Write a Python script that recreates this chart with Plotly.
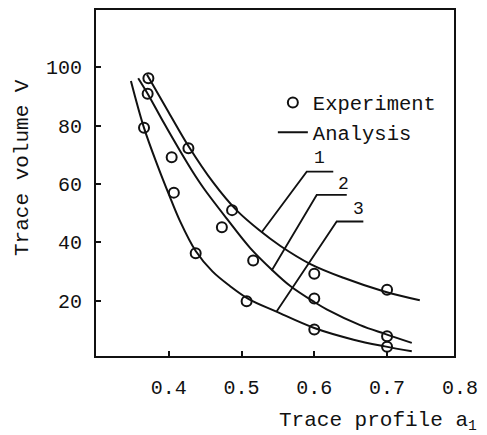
import plotly.graph_objects as go

# ---- data ----
# Experiment points (open circles)
exp1_x = [0.372, 0.427, 0.487, 0.600, 0.700]
exp1_y = [96.2, 72.2, 51.0, 29.2, 23.7]
exp2_x = [0.371, 0.404, 0.473, 0.516, 0.600, 0.700]
exp2_y = [90.9, 69.1, 45.1, 33.7, 20.7, 7.8]
exp3_x = [0.366, 0.407, 0.437, 0.507, 0.600, 0.700]
exp3_y = [79.2, 57.0, 36.2, 19.8, 10.1, 4.2]

# Analysis curves
ana1_x = [0.370, 0.400, 0.427, 0.461, 0.493, 0.525, 0.553, 0.594, 0.640, 0.695, 0.745]
ana1_y = [97.5, 84.5, 73.0, 60.5, 51.0, 44.0, 38.8, 32.6, 27.8, 23.2, 20.1]
ana2_x = [0.358, 0.371, 0.393, 0.415, 0.432, 0.448, 0.480, 0.512, 0.542, 0.567, 0.600, 0.617, 0.663, 0.697, 0.734]
ana2_y = [96.2, 90.9, 81.0, 71.5, 64.5, 58.5, 48.0, 38.0, 30.5, 25.0, 19.5, 17.0, 11.6, 8.6, 5.5]
ana3_x = [0.348, 0.366, 0.385, 0.400, 0.415, 0.437, 0.460, 0.484, 0.510, 0.548, 0.600, 0.654, 0.697, 0.734]
ana3_y = [95.3, 79.2, 66.0, 56.5, 47.5, 37.0, 30.0, 25.0, 20.5, 16.2, 10.6, 6.6, 4.3, 2.6]

# Curve labels and leader lines
label_text = ["1", "2", "3"]
label_x = [0.6069, 0.6399, 0.6605]
label_y = [69.0, 60.1, 51.4]
leader1_x = [0.5277, 0.5896, 0.6261]
leader1_y = [43.4, 64.2, 64.2]
leader2_x = [0.5415, 0.6033, 0.6446]
leader2_y = [30.3, 56.2, 56.2]
leader3_x = [0.5484, 0.6308, 0.6674]
leader3_y = [16.3, 47.1, 47.1]

x_ticks = [0.4, 0.5, 0.6, 0.7]
x_tick_text = ["0.4", "0.5", "0.6", "0.7"]
x_extra_tick = 0.8
y_ticks = [20, 40, 60, 80, 100]

X_RANGE = [0.3, 0.792]
Y_RANGE = [1, 119.6]

FONT = "Liberation Mono, Courier New, monospace"
BLACK = "#111111"

fig = go.Figure()

marker = dict(symbol="circle-open", size=10, color=BLACK, line=dict(width=2, color=BLACK))
for i, (xs, ys) in enumerate([(exp1_x, exp1_y), (exp2_x, exp2_y), (exp3_x, exp3_y)]):
    fig.add_trace(go.Scatter(x=xs, y=ys, mode="markers", marker=marker,
                             name="Experiment", legendgroup="exp", showlegend=(i == 0)))

for i, (xs, ys) in enumerate([(ana1_x, ana1_y), (ana2_x, ana2_y), (ana3_x, ana3_y)]):
    fig.add_trace(go.Scatter(x=xs, y=ys, mode="lines",
                             line=dict(color=BLACK, width=2, shape="spline", smoothing=1.0),
                             name="Analysis", legendgroup="ana", showlegend=(i == 0)))

for xs, ys in [(leader1_x, leader1_y), (leader2_x, leader2_y), (leader3_x, leader3_y)]:
    fig.add_trace(go.Scatter(x=xs, y=ys, mode="lines", line=dict(color=BLACK, width=1.8),
                             showlegend=False, hoverinfo="skip"))

for t, lx, ly in zip(label_text, label_x, label_y):
    fig.add_annotation(x=lx, y=ly, text=t, showarrow=False,
                       font=dict(family=FONT, size=18, color=BLACK))

# 0.8 tick label sits just beyond the right edge of the frame
fig.add_annotation(x=(x_extra_tick - X_RANGE[0]) / (X_RANGE[1] - X_RANGE[0]), xref="paper",
                   xanchor="center", y=0, yref="paper", yanchor="top", yshift=-19, text="0.8",
                   showarrow=False, font=dict(family=FONT, size=20, color=BLACK))

# x-axis title (offset to the right as in the original)
fig.add_annotation(x=0.506, xref="paper", xanchor="left", y=0, yref="paper", yanchor="top", yshift=-51,
                   text="Trace profile a<sub>1</sub>", showarrow=False,
                   font=dict(family=FONT, size=21, color=BLACK))

# y-axis title (sits a little above the frame's centre, as in the original)
fig.add_annotation(x=-0.207, xref="paper", xanchor="center", y=0.546, yref="paper", yanchor="middle",
                   text="Trace volume V", textangle=-90, showarrow=False,
                   font=dict(family=FONT, size=21, color=BLACK))

fig.update_layout(
    width=479, height=427,
    margin=dict(l=88, r=33, t=0, b=79),
    paper_bgcolor="white", plot_bgcolor="white",
    font=dict(family=FONT, size=20, color=BLACK),
    showlegend=True,
    legend=dict(x=0.494, y=0.79, xanchor="left", yanchor="top", bgcolor="rgba(0,0,0,0)",
                font=dict(family=FONT, size=20.5, color=BLACK), tracegroupgap=0, itemwidth=30),
    xaxis=dict(range=X_RANGE, tickvals=x_ticks, ticktext=x_tick_text, ticks="inside", ticklen=5,
               tickwidth=1.5, tickcolor=BLACK, showgrid=False, zeroline=False, showline=True,
               linecolor=BLACK, linewidth=2, mirror=True, ticklabelstandoff=12,
               tickfont=dict(family=FONT, size=20, color=BLACK)),
    yaxis=dict(range=Y_RANGE, tickvals=y_ticks, ticks="inside", ticklen=5, tickwidth=1.5, tickcolor=BLACK,
               showgrid=False, zeroline=False, showline=True, linecolor=BLACK, linewidth=2, mirror=True,
               ticklabelstandoff=8, tickfont=dict(family=FONT, size=20, color=BLACK)),
)

fig.write_html("out.html")
